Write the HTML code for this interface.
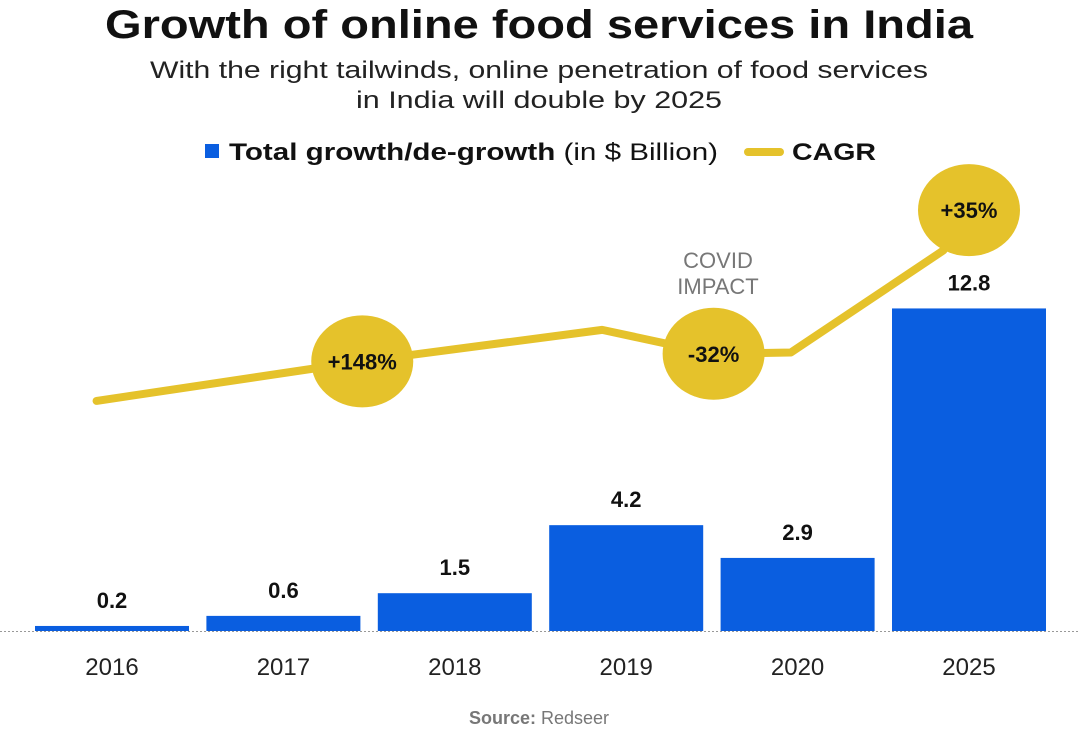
<!DOCTYPE html>
<html><head><meta charset="utf-8"><style>
body{margin:0;background:#fff;width:1078px;height:735px;overflow:hidden;font-family:"Liberation Sans",sans-serif}
</style></head><body>
<svg width="1078" height="735" font-family="Liberation Sans, sans-serif">
<text x="105" y="38" textLength="868" lengthAdjust="spacingAndGlyphs" font-size="40" font-weight="bold" fill="#111">Growth of online food services in India</text>
<text x="150" y="78" textLength="778" lengthAdjust="spacingAndGlyphs" font-size="24" fill="#222">With the right tailwinds, online penetration of food services</text>
<text x="356" y="108" textLength="366" lengthAdjust="spacingAndGlyphs" font-size="24" fill="#222">in India will double by 2025</text>
<g>
<rect x="205" y="144" width="14" height="14" fill="#0a5ee0"/>
<text x="229" y="160" textLength="489" lengthAdjust="spacingAndGlyphs" font-size="24" fill="#111"><tspan font-weight="bold">Total growth/de-growth</tspan> (in $ Billion)</text>
<rect x="744" y="148" width="40" height="8" rx="4" fill="#e5c22b"/>
<text x="792" y="160" textLength="84" lengthAdjust="spacingAndGlyphs" font-size="24" font-weight="bold" fill="#111">CAGR</text>
</g>
<g id="bars"></g>
<line x1="0" y1="631.5" x2="1078" y2="631.5" stroke="#999" stroke-dasharray="2,2"/>
<g id="line"></g>
<text x="718" y="268" text-anchor="middle" font-size="22" fill="#777">COVID</text>
<text x="718" y="294" text-anchor="middle" font-size="22" fill="#777">IMPACT</text>
<text x="539" y="724" text-anchor="middle" font-size="18" fill="#777"><tspan font-weight="bold">Source:</tspan> Redseer</text>
</svg>
<script>
const categories=["2016","2017","2018","2019","2020","2025"];
const values=[0.2,0.6,1.5,4.2,2.9,12.8];
const valueLabels=["0.2","0.6","1.5","4.2","2.9","12.8"];
const cagrLabels=["+148%","-32%","+35%"];
const cagrLabelPos=[1.46,3.51,5.0];
const cagrLabelLevel=[10.7,11.0,16.7];
const cagrNodePos=[-0.09,1.46,2.86,3.51,3.96,4.85,5.0];
const cagrNodeLevel=[9.13,10.7,11.95,11.0,11.05,15.1,16.7];
const ns="http://www.w3.org/2000/svg";
const x0=35,step=171.4,bw=154,base=631,ppu=25.2;
const xCat=i=>x0+i*step;
const xMid=i=>x0+i*step+bw/2;
const yVal=v=>base-v*ppu;
const bars=document.getElementById('bars');
categories.forEach((c,i)=>{
 const r=document.createElementNS(ns,'rect');
 
 
 r.setAttribute('x',xCat(i));r.setAttribute('y',yVal(values[i]));
 r.setAttribute('width',bw);r.setAttribute('height',values[i]*ppu);
 r.setAttribute('fill','#0a5ee0');bars.appendChild(r);
 const t=document.createElementNS(ns,'text');
 
 
 t.setAttribute('x',xMid(i));t.setAttribute('y',yVal(values[i])-18);
 t.setAttribute('text-anchor','middle');t.setAttribute('font-size','22');t.setAttribute('font-weight','bold');t.setAttribute('fill','#111');
 t.textContent=valueLabels[i];bars.appendChild(t);
 const a=document.createElementNS(ns,'text');
 
 
 a.setAttribute('x',xMid(i));a.setAttribute('y',675);
 a.setAttribute('text-anchor','middle');a.setAttribute('font-size','24');a.setAttribute('fill','#222');
 a.textContent=c;bars.appendChild(a);
});
const lg=document.getElementById('line');
const p=document.createElementNS(ns,'polyline');


p.setAttribute('points',cagrNodePos.map((n,i)=>xMid(n)+','+yVal(cagrNodeLevel[i])).join(' '));
p.setAttribute('fill','none');p.setAttribute('stroke','#e5c22b');p.setAttribute('stroke-width','8');p.setAttribute('stroke-linejoin','round');p.setAttribute('stroke-linecap','round');
lg.appendChild(p);
cagrLabels.forEach((l,i)=>{
 const cx=xMid(cagrLabelPos[i]),cy=yVal(cagrLabelLevel[i]);
 const e=document.createElementNS(ns,'ellipse');
 
 
 e.setAttribute('cx',cx);e.setAttribute('cy',cy);e.setAttribute('rx',51);e.setAttribute('ry',46);e.setAttribute('fill','#e5c22b');
 lg.appendChild(e);
 const t=document.createElementNS(ns,'text');
 
 
 t.setAttribute('x',cx);t.setAttribute('y',cy+8);t.setAttribute('text-anchor','middle');
 t.setAttribute('font-size','22');t.setAttribute('font-weight','bold');t.setAttribute('fill','#111');
 t.textContent=l;lg.appendChild(t);
});
</script>
</body></html>
